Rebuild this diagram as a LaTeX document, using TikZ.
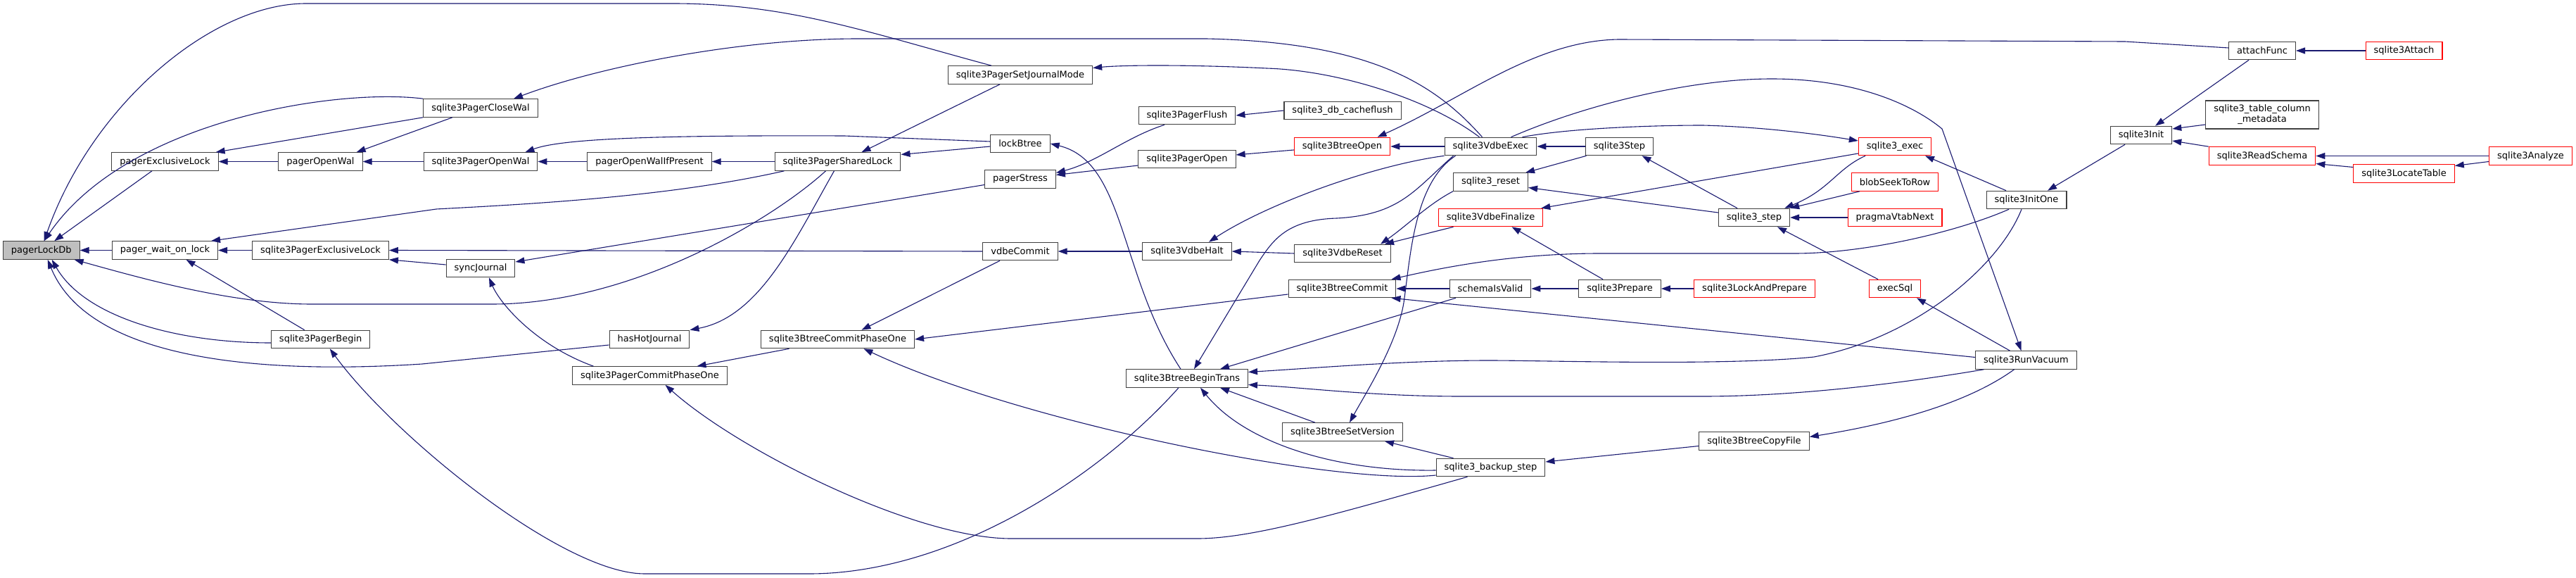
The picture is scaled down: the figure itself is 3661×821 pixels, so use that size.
\documentclass[tikz,border=0pt]{standalone}
\usepackage{fontspec}
\setmainfont{DejaVu Sans}
\usetikzlibrary{arrows.meta}
\definecolor{edgeblue}{RGB}{25,25,112}
\definecolor{boxline}{RGB}{64,64,64}
\definecolor{cutred}{RGB}{255,0,0}
\definecolor{rootgray}{RGB}{191,191,191}
\newcommand{\fnfont}{\fontsize{13pt}{15pt}\selectfont}
\tikzset{
  fnbox/.style   = {draw=boxline, fill=white, line width=1.1pt,
                    inner xsep=11.5pt, inner ysep=0pt, minimum height=25.5pt,
                    align=center, font=\fnfont},
  rootbox/.style = {fnbox, fill=rootgray},
  cutbox/.style  = {fnbox, draw=cutred},
  calls/.style   = {-{Triangle[length=13pt, width=9pt]}, color=edgeblue,
                    line width=1.1pt},
}
\begin{document}
\begin{tikzpicture}[x=1pt, y=-1pt]
  \useasboundingbox (0,0) rectangle (3661,821);
  % functions, one column per rank
  \node[rootbox] (lockdb)     at (58.7,355.5)  {pagerLockDb};
  \node[fnbox]   (exlock)     at (234.5,229.5) {pagerExclusiveLock};
  \node[fnbox]   (waitlock)   at (234.5,355.5) {pager\_wait\_on\_lock};
  \node[fnbox]   (openwal)    at (455.5,229.5) {pagerOpenWal};
  \node[fnbox]   (pexlock)    at (455.5,355.5) {sqlite3PagerExclusiveLock};
  \node[fnbox]   (pbegin)     at (455.7,482)   {sqlite3PagerBegin};
  \node[fnbox]   (closewal)   at (683,153.5)   {sqlite3PagerCloseWal};
  \node[fnbox]   (popenwal)   at (683,229.5)   {sqlite3PagerOpenWal};
  \node[fnbox]   (syncj)      at (683,381)     {syncJournal};
  \node[fnbox]   (walif)      at (923,229.5)   {pagerOpenWalIfPresent};
  \node[fnbox]   (hotj)       at (923,482)     {hasHotJournal};
  \node[fnbox]   (pcommit1)   at (923.5,533.5) {sqlite3PagerCommitPhaseOne};
  \node[fnbox]   (shlock)     at (1190.5,229.5) {sqlite3PagerSharedLock};
  \node[fnbox]   (bcommit1)   at (1190.5,482)  {sqlite3BtreeCommitPhaseOne};
  \node[fnbox]   (jmode)      at (1450,106.5)  {sqlite3PagerSetJournalMode};
  \node[fnbox]   (lockbt)     at (1450,204)    {lockBtree};
  \node[fnbox]   (stress)     at (1450,254.5)  {pagerStress};
  \node[fnbox]   (vcommit)    at (1450,357)    {vdbeCommit};
  \node[fnbox]   (pflush)     at (1687,164)    {sqlite3PagerFlush};
  \node[fnbox]   (popen)      at (1687,226)    {sqlite3PagerOpen};
  \node[fnbox]   (vhalt)      at (1687,357)    {sqlite3VdbeHalt};
  \node[fnbox]   (begintr)    at (1687,537.5)  {sqlite3BtreeBeginTrans};
  \node[fnbox]   (cacheflush) at (1908,157)    {sqlite3\_db\_cacheflush};
  \node[cutbox]  (btopen)     at (1907.5,208)  {sqlite3BtreeOpen};
  \node[fnbox]   (vreset)     at (1908,360)    {sqlite3VdbeReset};
  \node[fnbox]   (bcommit)    at (1907.5,410)  {sqlite3BtreeCommit};
  \node[fnbox]   (setver)     at (1908,613.5)  {sqlite3BtreeSetVersion};
  \node[fnbox]   (vexec)      at (2118.5,208)  {sqlite3VdbeExec};
  \node[fnbox]   (reset)      at (2118.5,258.5) {sqlite3\_reset};
  \node[cutbox]  (vfinal)     at (2118.5,309)  {sqlite3VdbeFinalize};
  \node[fnbox]   (schemaok)   at (2118,410)    {schemaIsValid};
  \node[fnbox]   (backup)     at (2118.5,664)  {sqlite3\_backup\_step};
  \node[fnbox]   (vstep)      at (2301.5,208)  {sqlite3Step};
  \node[fnbox]   (prepare)    at (2302,410)    {sqlite3Prepare};
  \node[fnbox]   (step)       at (2493,309)    {sqlite3\_step};
  \node[cutbox]  (lockprep)   at (2493.5,410)  {sqlite3LockAndPrepare};
  \node[fnbox]   (copyfile)   at (2493,626.5)  {sqlite3BtreeCopyFile};
  \node[cutbox]  (exec)       at (2693,208)    {sqlite3\_exec};
  \node[cutbox]  (blobseek)   at (2693,258.5)  {blobSeekToRow};
  \node[cutbox]  (vtabnext)   at (2693,309)    {pragmaVtabNext};
  \node[cutbox]  (execsql)    at (2693,410)    {execSql};
  \node[fnbox]   (initone)    at (2880,284)    {sqlite3InitOne};
  \node[fnbox]   (vacuum)     at (2879.5,511.5) {sqlite3RunVacuum};
  \node[fnbox]   (init)       at (3043,192)    {sqlite3Init};
  \node[fnbox]   (attach)     at (3215,72)     {attachFunc};
  \node[fnbox, minimum height=40pt] (colmeta) at (3215,163)
                 {sqlite3\_table\_column\\\_metadata};
  \node[cutbox]  (readschema) at (3215,221.5)  {sqlite3ReadSchema};
  \node[cutbox]  (sattach)    at (3416.5,72)   {sqlite3Attach};
  \node[cutbox]  (locate)     at (3416.5,246.5) {sqlite3LocateTable};
  \node[cutbox]  (analyze)    at (3596.5,221.5) {sqlite3Analyze};

  % calls into the pager
  \draw[calls] ([xshift=-41pt]jmode.north) .. controls (1230,45) and (1120,5) .. (956,5)
               -- (435,5) .. controls (300,5) and (130,150) .. ([xshift=4pt]lockdb.north);
  \draw[calls] (closewal.north west) .. controls (480,125) and (180,170) .. ([xshift=4pt]lockdb.north);
  \draw[calls] (exlock) -- (lockdb);
  \draw[calls] (waitlock) -- (lockdb);
  \draw[calls] ([xshift=-17pt]shlock.south) .. controls (1100,310) and (900,432) .. (699,432)
               -- (443,432) .. controls (330,432) and (200,395) .. ([xshift=-8pt]lockdb.south east);
  \draw[calls] ([yshift=-5pt]pbegin.west) .. controls (250,487) and (120,450) .. ([xshift=15pt]lockdb.south);
  \draw[calls] ([yshift=-8pt]hotj.west) -- (600,517) .. controls (400,530) and (130,520) .. ([xshift=9pt]lockdb.south);
  \draw[calls] (closewal.south west) -- ([xshift=-4pt]exlock.north east);
  \draw[calls] ([xshift=-40pt]closewal.south) -- ([xshift=-9pt]openwal.north east);
  \draw[calls] (openwal) -- (exlock);
  \draw[calls] (popenwal) -- (openwal);
  \draw[calls] (walif) -- (popenwal);
  \draw[calls] (shlock) -- (walif);
  \draw[calls] ([yshift=3pt]lockbt.west) -- (1200,193) .. controls (950,192) and (800,196) .. ([xshift=-18pt]popenwal.north east);
  \draw[calls] ([yshift=-4pt]lockbt.west) -- ([yshift=10pt]shlock.east);
  \draw[calls] ([xshift=-29pt]jmode.south) -- ([xshift=34pt]shlock.north);
  \draw[calls] ([xshift=-76pt]shlock.south) .. controls (950,280) and (750,290) .. (620,297)
               -- ([xshift=-10pt]waitlock.north east);
  \draw[calls] ([xshift=-5pt]shlock.south) .. controls (1130,340) and (1080,450) .. (hotj.north east);
  \draw[calls] (pexlock) -- (waitlock);
  \draw[calls] ([xshift=-23pt]pbegin.north) -- ([xshift=30pt]waitlock.south);
  \draw[calls] (vcommit.west) -- (pexlock.east);
  \draw[calls] ([yshift=5pt]syncj.west) -- (pexlock.south east);
  \draw[calls] ([yshift=-8pt]stress.west) -- ([yshift=9pt]syncj.east);
  \draw[calls] ([xshift=-80pt]pcommit1.north) .. controls (760,490) and (710,430) .. ([xshift=12pt]syncj.south);
  \draw[calls] ([xshift=-69pt]bcommit1.south) -- ([xshift=67pt]pcommit1.north);
  \draw[calls] ([xshift=-33pt]backup.south) .. controls (1900,730) and (1780,765) .. (1702,765)
               -- (1437,765) .. controls (1300,765) and (1050,640) .. ([xshift=22pt]pcommit1.south);
  \draw[calls] ([xshift=-29pt]vcommit.south) -- ([xshift=34pt]bcommit1.north);
  \draw[calls] ([yshift=-8pt]bcommit.west) -- (bcommit1.east);
  \draw[calls] ([yshift=-11pt]backup.west) .. controls (1900,690) and (1450,600) .. ([xshift=37pt]bcommit1.south);
  \draw[calls] ([xshift=-12pt]begintr.south) .. controls (1560,680) and (1350,815) .. (1150,815)
               -- (916,815) .. controls (800,815) and (560,620) .. ([xshift=13pt]pbegin.south);
  \draw[calls] ([xshift=-9pt]begintr.north) .. controls (1590,390) and (1600,230) .. (lockbt.east);
  \draw[calls] ([xshift=-32pt]pflush.south) .. controls (1600,195) and (1560,230) .. ([yshift=9pt]stress.east);
  \draw[calls] ([yshift=-9pt]popen.west) -- ([yshift=6pt]stress.east);
  \draw[calls] (cacheflush.west) -- (pflush.east);
  \draw[calls] ([yshift=-5pt]btopen.west) -- ([yshift=6pt]popen.east);

  % calls from the vdbe and btree
  \draw[calls] (vexec.south west) .. controls (1950,235) and (1800,290) .. ([xshift=31pt]vhalt.north);
  \draw[calls] (vreset.west) -- (vhalt.east);
  \draw[calls] (vhalt) -- (vcommit);
  \draw[calls] ([xshift=-53pt]vexec.south) .. controls (2010,270) and (1990,305) .. (1900,310)
               .. controls (1830,312) and (1810,340) .. (1790,370) -- ([xshift=10pt]begintr.north);
  \draw[calls] ([xshift=-49pt]schemaok.south) -- ([xshift=47pt]begintr.north);
  \draw[calls] ([xshift=-7pt]initone.south) .. controls (2840,380) and (2720,480) .. (2578,507)
               .. controls (2450,520) and (2200,512) .. (2116,512)
               .. controls (2000,512) and (1880,522) .. ([yshift=9pt]begintr.east);
  \draw[calls] ([xshift=-60pt]vacuum.south) .. controls (2700,545) and (2550,563) .. (2420,563)
               -- (2077,563) .. controls (1950,563) and (1850,550) .. ([yshift=-9pt]begintr.east);
  \draw[calls] ([xshift=-39pt]setver.north) -- ([xshift=47pt]begintr.south);
  \draw[calls] ([yshift=-4pt]backup.west) .. controls (1900,670) and (1770,630) .. ([xshift=19pt]begintr.south);
  \draw[calls] ([xshift=-50pt]vexec.south) .. controls (2010,260) and (2005,360) .. (1995,430)
               .. controls (1985,490) and (1940,560) .. ([xshift=10pt]setver.north);
  \draw[calls] ([xshift=-53pt]backup.north) -- ([xshift=60pt]setver.south);
  \draw[calls] ([yshift=-7pt]copyfile.west) -- ([yshift=8pt]backup.east);
  \draw[calls] ([xshift=-17pt]vacuum.south) .. controls (2800,570) and (2700,600) .. ([yshift=6pt]copyfile.east);
  \draw[calls] ([xshift=-12pt]vexec.north) .. controls (2040,120) and (1950,60) .. (1714,55)
               -- (1220,55) .. controls (1050,55) and (850,95) .. ([xshift=47pt]closewal.north);
  \draw[calls] ([xshift=-16pt]vexec.north) .. controls (2030,140) and (1900,100) .. (1800,97)
               .. controls (1700,92) and (1600,92) .. ([yshift=10pt]jmode.east);
  \draw[calls] (vexec) -- (btopen);
  \draw[calls] ([yshift=4pt]attach.west) -- (3020,59) -- (2300,56)
               .. controls (2180,58) and (2080,140) .. ([xshift=50pt]btopen.north);
  \draw[calls] (vstep) -- (vexec);
  \draw[calls] ([xshift=29pt]vexec.north) .. controls (2250,150) and (2400,112) .. (2518,112)
               .. controls (2640,112) and (2720,150) .. (2760,183) -- ([xshift=-7pt]vacuum.north);
  \draw[calls] ([xshift=45pt]vexec.north) .. controls (2230,182) and (2350,178) .. (2420,178)
               .. controls (2500,180) and (2580,190) .. ([yshift=8pt]exec.west);
  \draw[calls] ([yshift=-10pt]exec.west) -- ([xshift=-3pt]vfinal.north east);
  \draw[calls] ([xshift=-24pt]step.north) -- ([xshift=32pt]vstep.south);
  \draw[calls] ([yshift=7pt]step.west) -- ([yshift=-8pt]reset.east);
  \draw[calls] ([xshift=-47pt]vstep.south) -- ([xshift=-4pt]reset.north east);
  \draw[calls] (reset.south west) .. controls (2030,290) and (2000,320) .. ([xshift=54pt]vreset.north);
  \draw[calls] ([xshift=-53pt]vfinal.south) -- ([xshift=60pt]vreset.north);
  \draw[calls] ([xshift=-24pt]prepare.north) -- ([xshift=30pt]vfinal.south);
  \draw[calls] (prepare) -- (schemaok);
  \draw[calls] (lockprep) -- (prepare);
  \draw[calls] (schemaok) -- (bcommit);
  \draw[calls] ([xshift=-25pt]initone.south) .. controls (2780,330) and (2650,360) .. (2550,360)
               -- (2274,360) .. controls (2150,360) and (2050,380) .. ([xshift=70pt]bcommit.north);
  \draw[calls] ([yshift=4pt]vacuum.west) -- ([xshift=70pt]bcommit.south);

  % calls from the top-level api
  \draw[calls] ([xshift=-42pt]exec.south) .. controls (2610,240) and (2600,270) .. ([xshift=-8pt]step.north east);
  \draw[calls] ([xshift=-50pt]blobseek.south) -- (step.north east);
  \draw[calls] (vtabnext) -- (step);
  \draw[calls] ([xshift=-24pt]execsql.north) -- ([xshift=33pt]step.south);
  \draw[calls] ([xshift=-29pt]initone.north) -- ([xshift=43pt]exec.south);
  \draw[calls] ([xshift=-23pt]vacuum.north) -- ([xshift=31pt]execsql.south);
  \draw[calls] ([xshift=-23pt]init.south) -- ([xshift=30pt]initone.north);
  \draw[calls] ([xshift=-19pt]attach.south) -- ([xshift=20pt]init.north);
  \draw[calls] ([yshift=-14pt]colmeta.west) -- ([yshift=9pt]init.east);
  \draw[calls] (readschema.north west) -- ([yshift=-8pt]init.east);
  \draw[calls] (sattach) -- (attach);
  \draw[calls] (analyze) -- (readschema);
  \draw[calls] ([yshift=9pt]locate.west) -- ([yshift=-11pt]readschema.east);
  \draw[calls] ([yshift=-8pt]analyze.west) -- ([yshift=11pt]locate.east);
\end{tikzpicture}
\end{document}
